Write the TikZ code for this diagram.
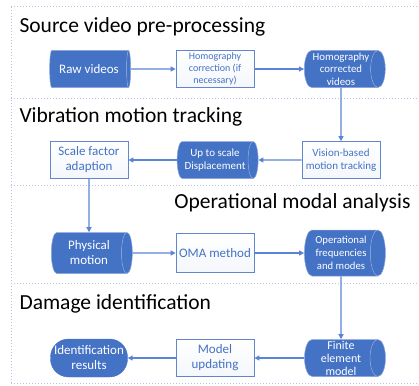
\documentclass[tikz,border=0pt]{standalone}
\usepackage{fontspec}
\setmainfont{Carlito}
\usetikzlibrary{shapes.geometric, arrows.meta, positioning}
\definecolor{officeblue}{HTML}{4472C4}
\definecolor{arrowblue}{HTML}{5B84D6}
\definecolor{rimblue}{HTML}{8CA6DC}
\definecolor{dotblue}{HTML}{B4C3E3}
\newcommand{\fsz}[2]{\fontsize{#1}{#2}\selectfont}

\begin{document}
\begin{tikzpicture} [x = 1pt, y = -1pt, node distance = 126pt, on grid, font = \fsz{13}{15},
	datastore/.style = {cylinder, shape aspect = 0.45, cylinder uses custom fill, cylinder body fill = officeblue,
		cylinder end fill = officeblue, draw = rimblue, line width = 0.5pt, text = white, align = center,
		minimum height = 81pt, minimum width = 37pt, inner sep = 0pt},
	process/.style = {rectangle, draw = officeblue!85, line width = 0.8pt, top color = white, bottom color = officeblue!6,
		text = officeblue, align = center, minimum width = 78pt, minimum height = 37pt, inner sep = 1pt},
	terminal/.style = {rectangle, rounded corners = 18pt, fill = officeblue, draw = officeblue, text = white,
		align = center, minimum width = 77pt, minimum height = 38pt, inner sep = 1pt},
	flow/.style = {-{Triangle[length = 5pt, width = 5pt]}, arrowblue, line width = 1.1pt},
	title/.style = {black, font = \fsz{21.5}{25}}]
	\useasboundingbox (0,0) rectangle (419,385);

	% Section frames
	\draw [dotblue, dotted, line width = 1pt] (11,7) -- (419,7);
	\draw [dotblue, dotted, line width = 1pt] (11,7) -- (11,383);
	\foreach \sy in {98, 185, 283, 383}
		\draw [dotblue, dotted, line width = 1pt] (11,\sy) -- (419,\sy);

	% Section titles
	\node (t1) [title, anchor = base west] at (16,33) {Source video pre-processing};
	\node (t2) [title, anchor = base west] at (16,122) {Vibration motion tracking};
	\node (t3) [title, anchor = base east] at (414,208) {Operational modal analysis};
	\node (t4) [title, anchor = base west] at (16,309) {Damage identification};

	% Row 1 : start node, everything else is placed from it
	\node (raw) [datastore] at (89,69) {Raw videos};
	\node (homog) [process, font = \fsz{10}{12}, right = of raw] {Homography\\correction (if\\necessary)};
	\node (corrected) [datastore, font = \fsz{10.8}{12.5}, right = of homog] {Homography\\corrected\\videos};

	% Row 2
	\node (vision) [process, font = \fsz{11}{13}, below = 91pt of corrected] {Vision-based\\motion tracking};
	\node (disp) [datastore, font = \fsz{11}{13}, left = of vision] {Up to scale\\Displacement};
	\node (scale) [process, left = of disp] {Scale factor\\adaption};

	% Row 3
	\node (phys) [datastore, minimum width = 41pt, below = 93pt of scale] {Physical\\motion};
	\node (oma) [process, minimum height = 39pt, right = of phys] {OMA method};
	\node (freq) [datastore, font = \fsz{10.7}{13}, minimum width = 46pt, right = of oma] {Operational\\frequencies\\and modes};

	% Row 4
	\node (fem) [datastore, font = \fsz{12}{13}, below = 105pt of freq] {Finite\\element\\model};
	\node (update) [process, left = of fem] {Model\\updating};
	\node (ident) [terminal, left = of update] {Identification\\results};

	% Draw Arrows/Connections
	\path [flow]
	% pre-processing
	(raw) edge (homog)
	(homog) edge (corrected)
	(corrected) edge (vision)
	% tracking
	(vision) edge (disp)
	(disp) edge (scale)
	(scale) edge (phys)
	% modal analysis
	(phys) edge (oma)
	(oma) edge (freq)
	(freq) edge (fem)
	% damage identification
	(fem) edge (update)
	(update) edge (ident);
\end{tikzpicture}
\end{document}
